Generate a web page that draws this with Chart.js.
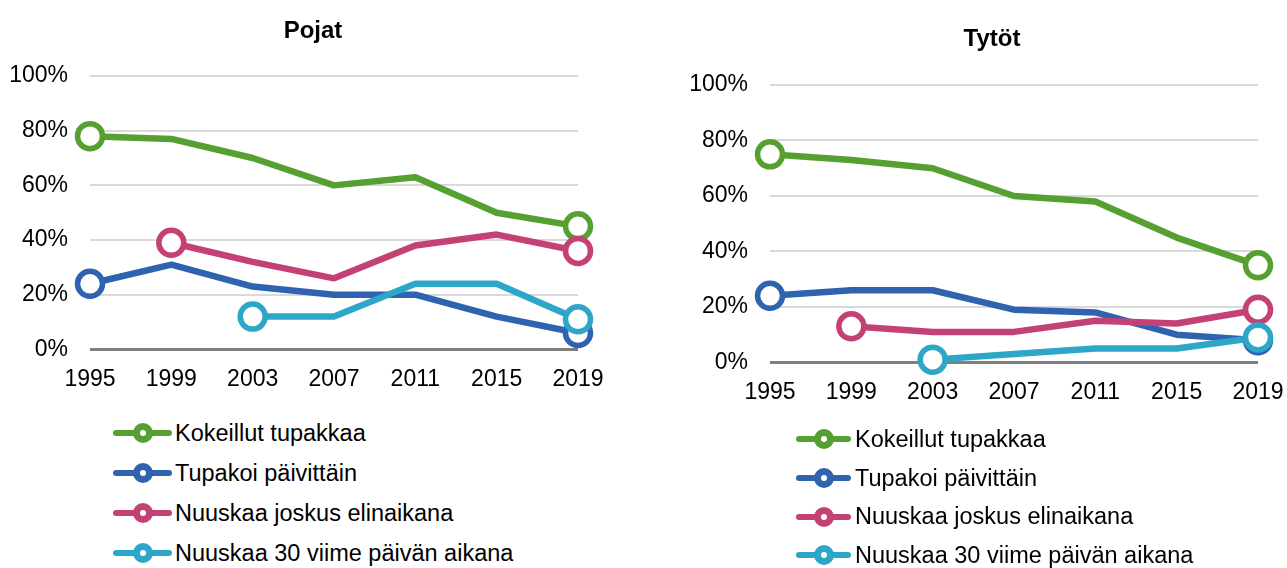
<!DOCTYPE html>
<html>
<head>
<meta charset="utf-8">
<script src="https://cdn.jsdelivr.net/npm/chart.js@4/dist/chart.umd.min.js"></script>
<style>
  body { margin:0; background:#fff; width:1287px; height:568px; overflow:hidden; position:relative; font-family:"Liberation Sans", Arial, sans-serif; }
  .wrap { position:absolute; }
  .legend { position:absolute; color:#000; font-size:23.5px; }
  .legend .row { display:flex; align-items:center; white-space:nowrap; }
  .sym { position:relative; height:20px; flex:none; }
  .sym .ln { position:absolute; left:0; right:0; top:7px; height:6px; border-radius:3px; }
  .sym .dot { position:absolute; left:50%; top:0px; width:6px; height:6px; margin-left:-10px; border:7px solid; border-radius:50%; background:#fff; }
</style>
</head>
<body>
<div class="wrap" style="left:0;top:0;width:626px;height:409px"><canvas id="boys"></canvas></div>
<div class="wrap" style="left:680px;top:0;width:624px;height:422px"><canvas id="girls"></canvas></div>
<div class="legend" id="legBoys" style="left:113px;top:413px"></div>
<div class="legend" id="legGirls" style="left:796px;top:420px"></div>
<script>
// Years and series (percent)
const years = ['1995','1999','2003','2007','2011','2015','2019'];
const seriesNames = ['Kokeillut tupakkaa','Tupakoi päivittäin','Nuuskaa joskus elinaikana','Nuuskaa 30 viime päivän aikana'];
const colors = ['#55a031','#2f63b0','#c34175','#2ea6c8'];
const yTicks = [0,20,40,60,80,100];

// Pojat
const boysTried = [78, 77, 70, 60, 63, 50, 45];
const boysDaily = [24, 31, 23, 20, 20, 12, 6];
const boysSnusEver = [null, 39, 32, 26, 38, 42, 36];
const boysSnus30 = [null, null, 12, 12, 24, 24, 11];

// Tytöt
const girlsTried = [75, 73, 70, 60, 58, 45, 35];
const girlsDaily = [24, 26, 26, 19, 18, 10, 8];
const girlsSnusEver = [null, 13, 11, 11, 15, 14, 19];
const girlsSnus30 = [null, null, 1, 3, 5, 5, 9];

Chart.defaults.font.family = '"Liberation Sans", Arial, sans-serif';
Chart.defaults.color = '#000';

// circles only on the first and last value of each line
const endRadius = ctx => {
  const d = ctx.dataset.data;
  const first = d.findIndex(v => v !== null);
  return (ctx.dataIndex === first || ctx.dataIndex === d.length - 1) ? 12.5 : 0;
};

function makeChart(id, title, data, opt){
  return new Chart(document.getElementById(id), {
    type: 'line',
    data: {
      labels: years,
      datasets: data.map((vals, i) => ({
        label: seriesNames[i],
        data: vals,
        borderColor: colors[i],
        borderWidth: 6.5,
        borderJoinStyle: 'round',
        borderCapStyle: 'round',
        pointRadius: endRadius,
        pointHoverRadius: endRadius,
        pointBackgroundColor: '#fff',
        pointBorderColor: colors[i],
        pointBorderWidth: 5.5,
        clip: false,
        order: 4 - i
      }))
    },
    options: {
      responsive: true,
      maintainAspectRatio: false,
      animation: false,
      layout: { padding: { left: 0, right: 0, top: 0, bottom: 0 } },
      plugins: {
        legend: { display: false },
        tooltip: { enabled: false },
        title: { display: true, text: title, font: { size: 24, weight: 'bold' }, padding: { top: opt.titleTop, bottom: opt.titleBottom } }
      },
      scales: {
        x: {
          offset: false,
          afterFit: s => { s.paddingRight = opt.padRight; },
          grid: { display: false, drawTicks: false },
          border: { display: false },
          ticks: { font: { size: 23 }, padding: 16, maxRotation: 0, autoSkip: false }
        },
        y: {
          min: 0, max: 100,
          afterFit: s => { s.width = opt.yWidth; },
          afterBuildTicks: s => { s.ticks = yTicks.map(v => ({ value: v })); },
          border: { display: false },
          grid: {
            drawTicks: false,
            color: c => c.tick.value === 0 ? '#7f7f7f' : '#d9d9d9',
            lineWidth: c => c.tick.value === 0 ? 3 : 2
          },
          ticks: { font: { size: 23 }, padding: 22, callback: v => v + '%' }
        }
      }
    }
  });
}

makeChart('boys', 'Pojat', [boysTried, boysDaily, boysSnusEver, boysSnus30],
  { padRight: 48, titleTop: 16.6, titleBottom: 30.6, yWidth: 90 });
makeChart('girls', 'Tytöt', [girlsTried, girlsDaily, girlsSnusEver, girlsSnus30],
  { padRight: 46, titleTop: 25, titleBottom: 31.2, yWidth: 90 });

function legend(id, rowH, symW, gap){
  const el = document.getElementById(id);
  seriesNames.forEach((name, i) => {
    const row = document.createElement('div');
    row.className = 'row';
    row.style.height = rowH + 'px';
    row.innerHTML = `<div class="sym" style="width:${symW}px;margin-right:${gap}px">
      <div class="ln" style="background:${colors[i]}"></div>
      <div class="dot" style="border-color:${colors[i]}"></div></div><span>${name}</span>`;
    el.appendChild(row);
  });
}
legend('legBoys', 40, 59, 3);
legend('legGirls', 38.7, 55, 4);
</script>
</body>
</html>
